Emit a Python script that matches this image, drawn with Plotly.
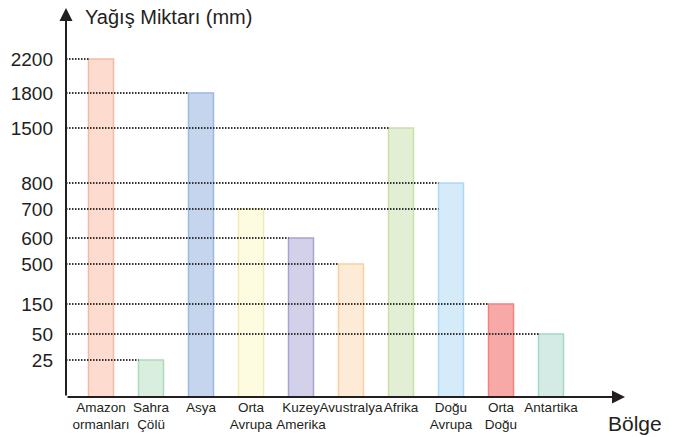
import numpy as np
import plotly.graph_objects as go

# veriler
BOLGELER = ["Amazon<br>ormanları", "Sahra<br>Çölü", "Asya", "Orta<br>Avrupa", "Kuzey<br>Amerika",
            "Avustralya", "Afrika", "Doğu<br>Avrupa", "Orta<br>Doğu", "Antartika"]
YAGIS = [2200, 25, 1800, 700, 600, 500, 1500, 800, 150, 50]

TICK_DEGERLERI = [0, 25, 50, 150, 500, 600, 700, 800, 1500, 1800, 2200]
# kılavuz çizginin uzandığı bölge (sıra numarası)
CIZGI_SONU = [None, 1, 9, 8, 5, 4, 7, 7, 6, 2, 0]

DOLGU = ["#FDDCCF", "#D9EEDF", "#C5D5EE", "#FEFCE0", "#D3D1E9",
         "#FEEBD7", "#E2EFD4", "#D5EBF9", "#F7A9A8", "#D3EBE4"]
KENAR = ["#F6B9A5", "#ABDBBA", "#9DB9E2", "#EEEBB3", "#A9A3D4",
         "#F9D0A0", "#C9E0A6", "#A9DAF6", "#F08280", "#A3D8CA"]

# eksenin doğrusal olmayan ölçeği: her tik değerinin eksendeki yeri
TICK_YERI = [0, 37, 63, 93, 133, 159, 188, 214, 269, 304, 338]

FONT = "Liberation Sans, Arial, sans-serif"
INK = "#231F20"


def olcek(v):
    return np.interp(v, TICK_DEGERLERI, TICK_YERI)


x = np.arange(len(BOLGELER))
fig = go.Figure()

# noktalı kılavuz çizgiler (çubukların arkasında)
for deger, son in zip(TICK_DEGERLERI, CIZGI_SONU):
    if son is None:
        continue
    fig.add_trace(go.Scatter(
        x=[-0.7, son - 0.25], y=[olcek(deger)] * 2, mode="lines",
        line=dict(color="#333333", width=2, dash="1.5px,1.5px"),
        hoverinfo="skip", showlegend=False,
    ))

fig.add_trace(go.Bar(
    x=x, y=olcek(YAGIS), width=0.5,
    marker=dict(color=DOLGU, line=dict(color=KENAR, width=1.5)),
    customdata=YAGIS, hovertemplate="%{customdata} mm<extra></extra>",
    showlegend=False,
))

fig.update_layout(
    width=695, height=437,
    margin=dict(l=66, r=70, t=8, b=40, autoexpand=False),
    paper_bgcolor="white", plot_bgcolor="white",
    font=dict(family=FONT, color=INK),
    bargap=0.5,
)
fig.update_xaxes(
    range=[-0.7, 10.48], tickvals=x, ticktext=BOLGELER, tickangle=0,
    showgrid=False, zeroline=False, showline=False, ticks="",
    tickfont=dict(size=13.5, color=INK), fixedrange=True, automargin=False,
)
fig.update_yaxes(
    range=[0, 389], tickvals=TICK_YERI[1:], ticktext=[str(v) for v in TICK_DEGERLERI[1:]],
    showgrid=False, zeroline=False, showline=False, ticks="",
    tickfont=dict(size=19, color=INK), ticklabelstandoff=12, fixedrange=True, automargin=False,
)

# eksenler ve oklar
fig.add_annotation(xref="paper", yref="paper", x=0, y=1, ax=0, ay=389, axref="pixel", ayref="pixel",
                   showarrow=True, arrowhead=2, arrowsize=1.3, arrowwidth=2, arrowcolor=INK, text="")
fig.add_annotation(xref="paper", yref="paper", x=1, y=0, ax=-559, ay=0, axref="pixel", ayref="pixel",
                   showarrow=True, arrowhead=2, arrowsize=1.3, arrowwidth=2, arrowcolor=INK, text="")

fig.add_annotation(xref="paper", yref="paper", x=(83 - 66) / 559, y=(397 - 17) / 389,
                   xanchor="left", yanchor="middle", showarrow=False,
                   text="Yağış Miktarı (mm)", font=dict(size=20, color=INK))
fig.add_annotation(xref="paper", yref="paper", x=(635 - 66) / 559, y=(397 - 423) / 389,
                   xanchor="center", yanchor="middle", showarrow=False,
                   text="Bölge", font=dict(size=21, color=INK))

# sayfanın varsayılan 8px kenar boşluğunu kaldır
fig.write_html("out.html", config={"displayModeBar": False},
               post_script="document.body.style.margin='0';")
